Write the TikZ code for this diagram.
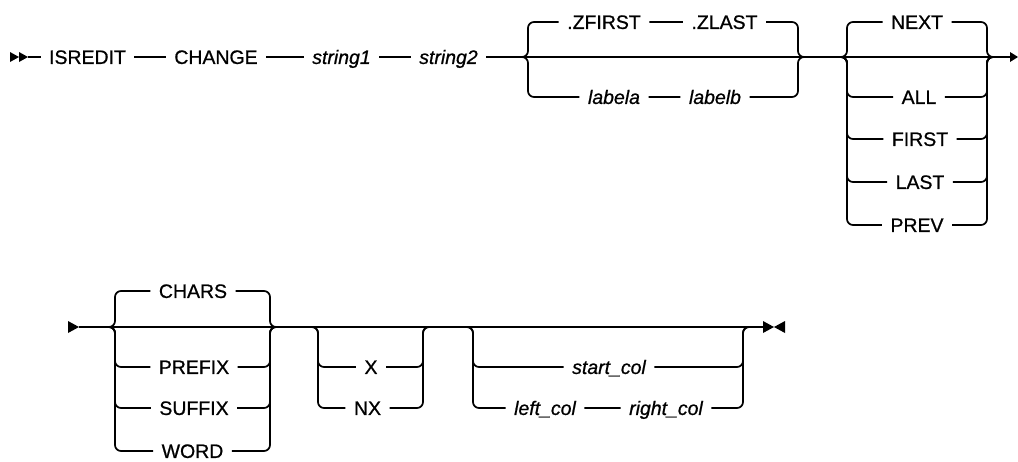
\documentclass[tikz,border=0pt]{standalone}
\usepackage{fontspec}
\setmainfont{Liberation Sans}[
  BoldFont={Liberation Sans}, BoldFeatures={FakeBold=0.8},
  BoldItalicFont={Liberation Sans Italic}, BoldItalicFeatures={FakeBold=0.8}]
\usetikzlibrary{calc}

\begin{document}
\begin{tikzpicture}[
  x=0.75pt, y=-0.75pt,
  rail/.style={line width=1.3pt, rounded corners=4.5pt},
  kw/.style={font=\fontsize{14.6}{16}\selectfont\bfseries, inner xsep=6.2pt, inner ysep=0pt,
             text height=10.4pt, text depth=0pt},
  var/.style={kw, font=\fontsize{14.6}{16}\selectfont\bfseries\itshape},
  tip/.style={fill=black}
]
\useasboundingbox (0,0) rectangle (1018,461);

% Row 1 keywords and variables
\coordinate (start1) at (28,57);
\coordinate (end1) at (1010,57);
\node[kw]  (isredit) at (87.5,57)  {ISREDIT};
\node[kw]  (change)  at (216,57)   {CHANGE};
\node[var] (strone)  at (341.5,57) {string1};
\node[var] (strtwo)  at (448.5,57) {string2};

% Range group
\coordinate (g1l) at (528,57);
\coordinate (g1r) at (798,57);
\node[kw]  (zfirst) at (604,22)   {.ZFIRST};
\node[kw]  (zlast)  at (724.5,22) {.ZLAST};
\node[var] (labela) at (614,97)   {labela};
\node[var] (labelb) at (715,97)   {labelb};

% Direction group
\coordinate (g2l) at (847,57);
\coordinate (g2r) at (987,57);
\node[kw] (next)  at (917,22)  {NEXT};
\node[kw] (all)   at (919,97)  {ALL};
\node[kw] (first) at (920,139) {FIRST};
\node[kw] (last)  at (920,182) {LAST};
\node[kw] (prev)  at (917,225) {PREV};

% Row 1 main line
\fill[tip, shift={(start1)}] (-18,-5) -- (-9,0) -- (-18,5) -- cycle;
\fill[tip, shift={(start1)}] (-9,-5) -- (0,0) -- (-9,5) -- cycle;
\draw[rail] (start1) -- (isredit) -- (change) -- (strone) -- (strtwo) -- (end1);
\fill[tip, shift={(end1)}] (0,-5) -- (8,0) -- (0,5) -- cycle;

\draw[rail] ($(g1l)+(-6,0)$) -- (g1l) |- (zfirst) -- (zlast) -| (g1r) -- ($(g1r)+(6,0)$);
\draw[rail] ($(g1l)+(-6,0)$) -- (g1l) |- (labela) -- (labelb) -| (g1r) -- ($(g1r)+(6,0)$);

\foreach \opt in {next,all,first,last,prev}
  \draw[rail] ($(g2l)+(-6,0)$) -- (g2l) |- (\opt) -| (g2r) -- ($(g2r)+(6,0)$);

% Row 2 keywords and variables
\coordinate (start2) at (79,327);
\coordinate (end2) at (763,327);

% Match group
\coordinate (g3l) at (115,327);
\coordinate (g3r) at (270,327);
\node[kw] (chars)  at (193,291) {CHARS};
\node[kw] (prefix) at (194,367) {PREFIX};
\node[kw] (suffix) at (194,408) {SUFFIX};
\node[kw] (word)   at (192.5,451) {WORD};

% Exclude group
\coordinate (g4l) at (318,327);
\coordinate (g4r) at (423,327);
\node[kw] (optx)  at (371,367)   {X};
\node[kw] (optnx) at (367.5,408) {NX};

% Column group
\coordinate (g5l) at (473,327);
\coordinate (g5r) at (743,327);
\node[var] (startcol) at (609,367) {start\_col};
\node[var] (leftcol)  at (545,408) {left\_col};
\node[var] (rightcol) at (666,408) {right\_col};

% Row 2 main line
\fill[tip, shift={(start2)}] (-11,-6) -- (0,0) -- (-11,6) -- cycle;
\draw[rail] (start2) -- (end2);
\fill[tip, shift={(end2)}] (0,-6) -- (11,0) -- (0,6) -- cycle;
\fill[tip, shift={(end2)}] (22,-6) -- (11,0) -- (22,6) -- cycle;

\foreach \opt in {chars,prefix,suffix,word}
  \draw[rail] ($(g3l)+(-6,0)$) -- (g3l) |- (\opt) -| (g3r) -- ($(g3r)+(6,0)$);

\foreach \opt in {optx,optnx}
  \draw[rail] ($(g4l)+(-6,0)$) -- (g4l) |- (\opt) -| (g4r) -- ($(g4r)+(6,0)$);

\draw[rail] ($(g5l)+(-6,0)$) -- (g5l) |- (startcol) -| (g5r) -- ($(g5r)+(6,0)$);
\draw[rail] ($(g5l)+(-6,0)$) -- (g5l) |- (leftcol) -- (rightcol) -| (g5r) -- ($(g5r)+(6,0)$);

\end{tikzpicture}
\end{document}
